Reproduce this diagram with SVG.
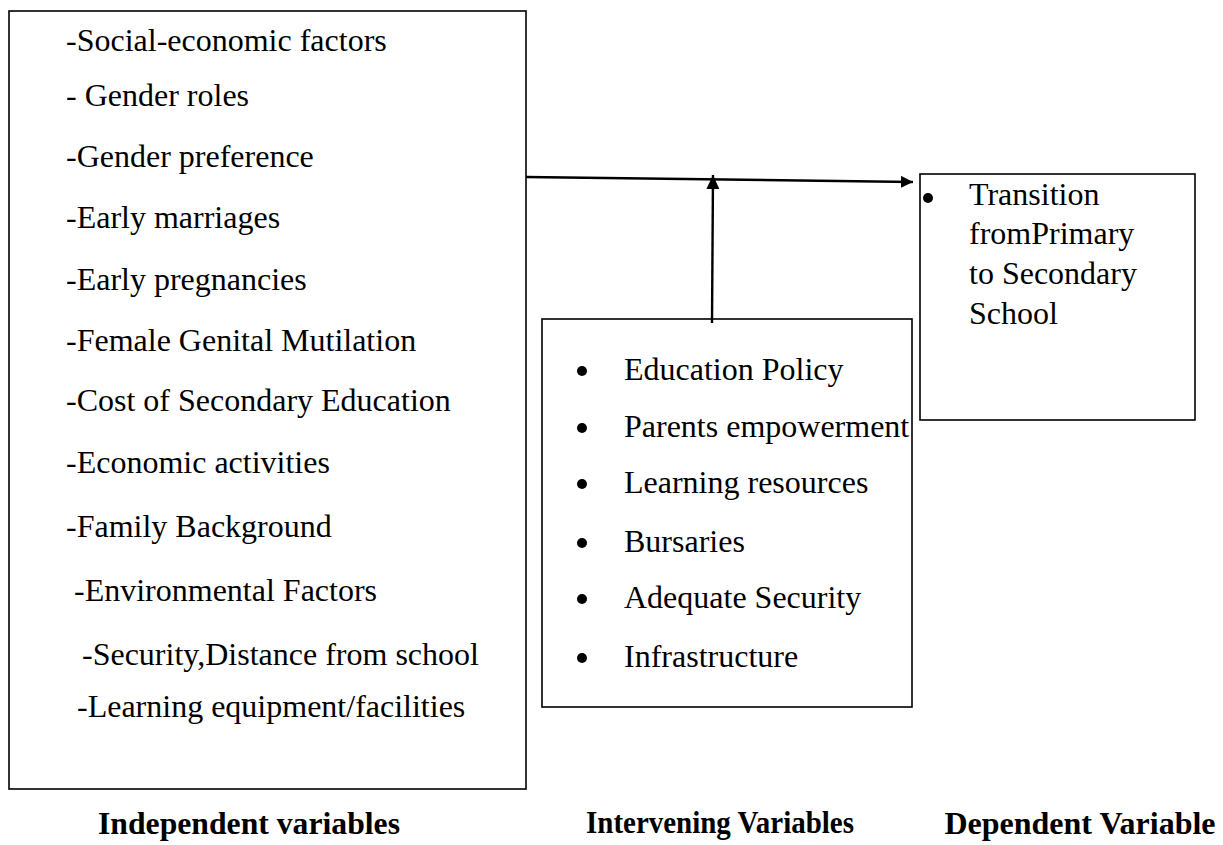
<svg xmlns="http://www.w3.org/2000/svg" width="1223" height="845" viewBox="0 0 1223 845">
<defs>
<style>
.box{fill:#fff;stroke:#000;stroke-width:1.6}
.t{font-family:"Liberation Serif","Times New Roman",serif;font-size:32px;fill:#000}
.lbl{font-family:"Liberation Serif","Times New Roman",serif;font-size:32px;font-weight:bold;fill:#000}
.conn{stroke:#000;stroke-width:2.4;fill:none}
</style>
<marker id="ah" viewBox="0 0 12 12" refX="12" refY="6" markerWidth="12" markerHeight="12" markerUnits="userSpaceOnUse" orient="auto">
<path d="M0,0 L12,6 L0,12 Z" fill="#000"/>
</marker>
<marker id="ah2" viewBox="0 0 14 13" refX="14" refY="6.5" markerWidth="14" markerHeight="13" markerUnits="userSpaceOnUse" orient="auto">
<path d="M0,0 L14,6.5 L0,13 Z" fill="#000"/>
</marker>
</defs>
<rect width="1223" height="845" fill="#fff"/>

<g id="independent">
<rect class="box" x="9" y="11" width="517" height="778"/>
<text class="t" x="66" y="51">-Social-economic factors</text>
<text class="t" x="66" y="106">- Gender roles</text>
<text class="t" x="66" y="167">-Gender preference</text>
<text class="t" x="66" y="228">-Early marriages</text>
<text class="t" x="66" y="290">-Early pregnancies</text>
<text class="t" x="66" y="351">-Female Genital Mutilation</text>
<text class="t" x="66" y="411">-Cost of Secondary Education</text>
<text class="t" x="66" y="473">-Economic activities</text>
<text class="t" x="66" y="537">-Family Background</text>
<text class="t" x="74" y="601">-Environmental Factors</text>
<text class="t" x="82" y="665">-Security,Distance from school</text>
<text class="t" x="77" y="717">-Learning equipment/facilities</text>
</g>

<g id="intervening">
<rect class="box" x="542" y="319" width="370" height="388"/>
<g fill="#000">
<circle cx="582" cy="371" r="5"/>
<circle cx="582" cy="428" r="5"/>
<circle cx="582" cy="484" r="5"/>
<circle cx="582" cy="543" r="5"/>
<circle cx="582" cy="599" r="5"/>
<circle cx="582" cy="658" r="5"/>
</g>
<text class="t" x="624" y="380">Education Policy</text>
<text class="t" x="624" y="437">Parents empowerment</text>
<text class="t" x="624" y="493">Learning resources</text>
<text class="t" x="624" y="552">Bursaries</text>
<text class="t" x="624" y="608">Adequate Security</text>
<text class="t" x="624" y="667">Infrastructure</text>
</g>

<g id="dependent">
<rect class="box" x="920" y="174" width="275" height="246"/>
<circle cx="928" cy="198" r="5" fill="#000"/>
<text class="t" x="969" y="205">Transition</text>
<text class="t" x="969" y="244">fromPrimary</text>
<text class="t" x="969" y="284">to Secondary</text>
<text class="t" x="969" y="324">School</text>
</g>

<g id="connectors">
<line class="conn" x1="526" y1="177" x2="913" y2="182" marker-end="url(#ah)"/>
<line class="conn" x1="712" y1="323" x2="713" y2="175" marker-end="url(#ah2)"/>
</g>

<g id="labels">
<text class="lbl" x="98" y="834" textLength="302" lengthAdjust="spacingAndGlyphs">Independent variables</text>
<text class="lbl" x="586" y="833" font-size="29" textLength="268" lengthAdjust="spacingAndGlyphs">Intervening Variables</text>
<text class="lbl" x="1080" y="834" font-size="28.5" text-anchor="middle">Dependent Variable</text>
</g>
</svg>
